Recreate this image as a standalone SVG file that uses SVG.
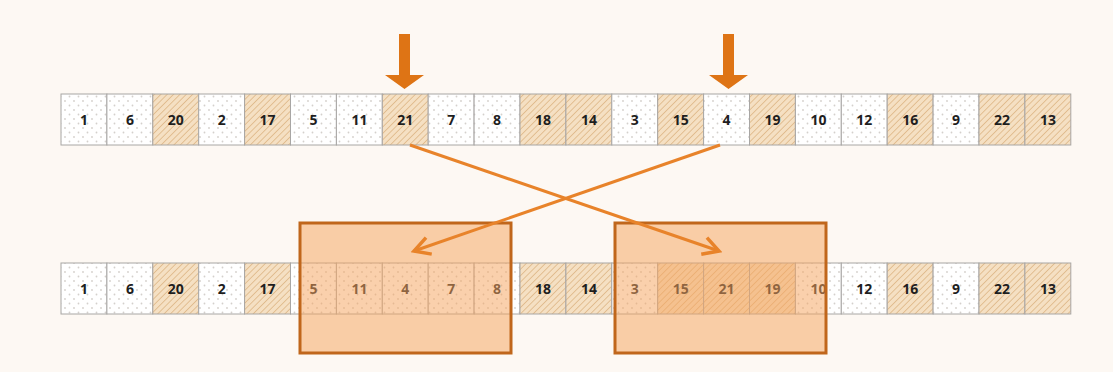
<svg xmlns="http://www.w3.org/2000/svg" width="1113" height="372" viewBox="0 0 1113 372">
<defs>
<pattern id="dots" width="9" height="9" patternUnits="userSpaceOnUse">
<rect width="9" height="9" fill="#ffffff"/>
<circle cx="2" cy="2" r="0.9" fill="#d4d0cc"/>
<circle cx="6.5" cy="6.5" r="0.9" fill="#d4d0cc"/>
</pattern>
<pattern id="hatch" width="4.5" height="4.5" patternUnits="userSpaceOnUse" patternTransform="rotate(45)">
<rect width="4.5" height="4.5" fill="#f5e0c3"/>
<line x1="0" y1="0" x2="0" y2="4.5" stroke="#d8ad78" stroke-width="1.3"/>
</pattern>
<marker id="chev" viewBox="0 0 12 12" refX="10" refY="6" markerWidth="7" markerHeight="7" orient="auto" markerUnits="strokeWidth">
<path d="M1,1 L10,6 L1,11" fill="none" stroke="#e8832a" stroke-width="2" stroke-linejoin="miter"/>
</marker>
</defs>
<style>
.d{fill:url(#dots);stroke:#a8a6a4;stroke-width:1}
.h{fill:url(#hatch);stroke:#a8a6a4;stroke-width:1}
.t{font-family:"Open Sans","Liberation Sans",sans-serif;font-weight:bold;font-size:14px;fill:#1e1e1e;text-anchor:middle}
.ov{fill:#f5a560;fill-opacity:0.52;stroke:#c0661b;stroke-width:3}
.cx{fill:none;stroke:#e8832a;stroke-width:3;marker-end:url(#chev)}
.da{fill:#de7415}
</style>
<rect width="1113" height="372" fill="#fdf8f3"/>

<g id="top-row">
<rect class="d" x="61" y="94" width="45.9" height="51"/><text class="t" x="84" y="125">1</text>
<rect class="d" x="106.9" y="94" width="45.9" height="51"/><text class="t" x="129.9" y="125">6</text>
<rect class="h" x="152.8" y="94" width="45.9" height="51"/><text class="t" x="175.8" y="125">20</text>
<rect class="d" x="198.7" y="94" width="45.9" height="51"/><text class="t" x="221.7" y="125">2</text>
<rect class="h" x="244.6" y="94" width="45.9" height="51"/><text class="t" x="267.6" y="125">17</text>
<rect class="d" x="290.5" y="94" width="45.9" height="51"/><text class="t" x="313.5" y="125">5</text>
<rect class="d" x="336.4" y="94" width="45.9" height="51"/><text class="t" x="359.4" y="125">11</text>
<rect class="h" x="382.3" y="94" width="45.9" height="51"/><text class="t" x="405.3" y="125">21</text>
<rect class="d" x="428.2" y="94" width="45.9" height="51"/><text class="t" x="451.2" y="125">7</text>
<rect class="d" x="474.1" y="94" width="45.9" height="51"/><text class="t" x="497.1" y="125">8</text>
<rect class="h" x="520" y="94" width="45.9" height="51"/><text class="t" x="543" y="125">18</text>
<rect class="h" x="565.9" y="94" width="45.9" height="51"/><text class="t" x="588.9" y="125">14</text>
<rect class="d" x="611.8" y="94" width="45.9" height="51"/><text class="t" x="634.8" y="125">3</text>
<rect class="h" x="657.7" y="94" width="45.9" height="51"/><text class="t" x="680.7" y="125">15</text>
<rect class="d" x="703.6" y="94" width="45.9" height="51"/><text class="t" x="726.6" y="125">4</text>
<rect class="h" x="749.5" y="94" width="45.9" height="51"/><text class="t" x="772.5" y="125">19</text>
<rect class="d" x="795.4" y="94" width="45.9" height="51"/><text class="t" x="818.4" y="125">10</text>
<rect class="d" x="841.3" y="94" width="45.9" height="51"/><text class="t" x="864.3" y="125">12</text>
<rect class="h" x="887.2" y="94" width="45.9" height="51"/><text class="t" x="910.2" y="125">16</text>
<rect class="d" x="933.1" y="94" width="45.9" height="51"/><text class="t" x="956.1" y="125">9</text>
<rect class="h" x="979" y="94" width="45.9" height="51"/><text class="t" x="1002" y="125">22</text>
<rect class="h" x="1024.9" y="94" width="45.9" height="51"/><text class="t" x="1047.9" y="125">13</text>
</g>

<g id="bottom-row">
<rect class="d" x="61" y="263" width="45.9" height="51"/><text class="t" x="84" y="294">1</text>
<rect class="d" x="106.9" y="263" width="45.9" height="51"/><text class="t" x="129.9" y="294">6</text>
<rect class="h" x="152.8" y="263" width="45.9" height="51"/><text class="t" x="175.8" y="294">20</text>
<rect class="d" x="198.7" y="263" width="45.9" height="51"/><text class="t" x="221.7" y="294">2</text>
<rect class="h" x="244.6" y="263" width="45.9" height="51"/><text class="t" x="267.6" y="294">17</text>
<rect class="d" x="290.5" y="263" width="45.9" height="51"/><text class="t" x="313.5" y="294">5</text>
<rect class="d" x="336.4" y="263" width="45.9" height="51"/><text class="t" x="359.4" y="294">11</text>
<rect class="d" x="382.3" y="263" width="45.9" height="51"/><text class="t" x="405.3" y="294">4</text>
<rect class="d" x="428.2" y="263" width="45.9" height="51"/><text class="t" x="451.2" y="294">7</text>
<rect class="d" x="474.1" y="263" width="45.9" height="51"/><text class="t" x="497.1" y="294">8</text>
<rect class="h" x="520" y="263" width="45.9" height="51"/><text class="t" x="543" y="294">18</text>
<rect class="h" x="565.9" y="263" width="45.9" height="51"/><text class="t" x="588.9" y="294">14</text>
<rect class="d" x="611.8" y="263" width="45.9" height="51"/><text class="t" x="634.8" y="294">3</text>
<rect class="h" x="657.7" y="263" width="45.9" height="51"/><text class="t" x="680.7" y="294">15</text>
<rect class="h" x="703.6" y="263" width="45.9" height="51"/><text class="t" x="726.6" y="294">21</text>
<rect class="h" x="749.5" y="263" width="45.9" height="51"/><text class="t" x="772.5" y="294">19</text>
<rect class="d" x="795.4" y="263" width="45.9" height="51"/><text class="t" x="818.4" y="294">10</text>
<rect class="d" x="841.3" y="263" width="45.9" height="51"/><text class="t" x="864.3" y="294">12</text>
<rect class="h" x="887.2" y="263" width="45.9" height="51"/><text class="t" x="910.2" y="294">16</text>
<rect class="d" x="933.1" y="263" width="45.9" height="51"/><text class="t" x="956.1" y="294">9</text>
<rect class="h" x="979" y="263" width="45.9" height="51"/><text class="t" x="1002" y="294">22</text>
<rect class="h" x="1024.9" y="263" width="45.9" height="51"/><text class="t" x="1047.9" y="294">13</text>
</g>

<g id="window-left"><rect class="ov" x="300" y="223" width="211" height="130"/></g>
<g id="window-right"><rect class="ov" x="615" y="223" width="211" height="130"/></g>

<g id="pointer-left"><path class="da" d="M399,34 H410 V75 H424 L404.5,89 L385,75 H399 Z"/></g>
<g id="pointer-right"><path class="da" d="M723,34 H734 V75 H748 L728.5,89 L709,75 H723 Z"/></g>

<g id="connectors">
<line class="cx" x1="410" y1="145" x2="719" y2="251"/>
<line class="cx" x1="720" y1="145" x2="414" y2="251"/>
</g>
</svg>
